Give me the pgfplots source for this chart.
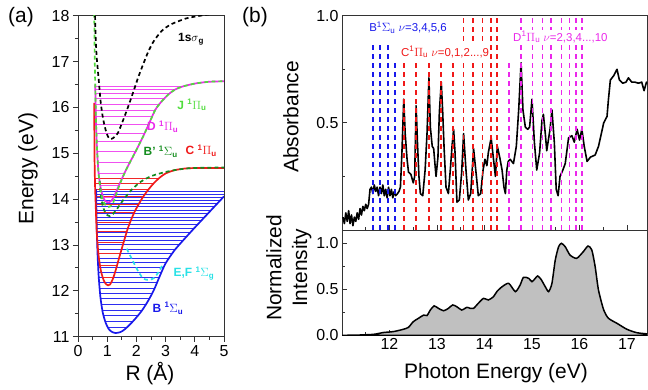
\documentclass[border=0pt]{standalone}
\usepackage{pgfplots}
\pgfplotsset{compat=1.18}
\usepackage{fontspec}
\setmainfont{Liberation Sans}
\definecolor{cB}{RGB}{25,25,235}
\definecolor{cBl}{RGB}{45,45,240}
\definecolor{cC}{RGB}{240,25,25}
\definecolor{cCl}{RGB}{240,40,40}
\definecolor{cD}{RGB}{235,40,235}
\definecolor{cDl}{RGB}{240,80,240}
\definecolor{cJ}{RGB}{80,220,60}
\definecolor{cBp}{RGB}{20,140,30}
\definecolor{cEF}{RGB}{40,225,230}
\definecolor{cfill}{RGB}{192,192,192}
\newcommand{\tfont}{\fontsize{16}{18}\selectfont}
\newcommand{\lfont}{\fontsize{21}{26}\selectfont}
\newcommand{\sfont}{\fontsize{12}{14}\selectfont\bfseries}
\newcommand{\bfont}{\fontsize{11.5}{13}\selectfont}
\pgfplotsset{
  myax/.style={scale only axis, anchor=south west,
    axis line style={black!80, line width=0.9bp},
    every tick/.style={black!80, line width=0.9bp},
    major tick length=5bp, minor tick length=3bp,
    tick label style={font=\tfont},
    label style={font=\lfont},
    tick pos=left,
    /pgf/number format/assume math mode=true,
  },
  vdash/.style={line width=1.8bp, dash pattern=on 5bp off 4bp},
}
\begin{document}
\begin{tikzpicture}
\useasboundingbox (0,0) rectangle (648bp,390bp);
% ---------------- panel (a)
\begin{axis}[myax, at={(78bp,53.3bp)}, width=146bp, height=321bp,
  xmin=0, xmax=5, ymin=11, ymax=18,
  xtick={0,1,2,3,4,5}, xticklabels={0,1,2,3,4,5},
  ytick={11,12,13,14,15,16,17,18}, yticklabels={11,12,13,14,15,16,17,18},
  minor x tick num=1, minor y tick num=1, tick align=outside,
  xlabel={R (Å)}, ylabel={Energy (eV)},
  xlabel style={at={(axis description cs:0.493,-0.116)}, anchor=center},
  ylabel style={at={(axis description cs:-0.342,0.524)}, anchor=center},
  unbounded coords=jump]
% B levels
\addplot[cBl, line width=1bp] coordinates {
(1.03,11.20)(1.67,11.20)(nan,nan)(0.94,11.33)(1.87,11.33)(nan,nan)
(0.88,11.46)(2.05,11.46)(nan,nan)(0.84,11.58)(2.20,11.58)(nan,nan)
(0.80,11.71)(2.33,11.71)(nan,nan)(0.78,11.83)(2.44,11.83)(nan,nan)
(0.76,11.95)(2.54,11.95)(nan,nan)(0.74,12.06)(2.63,12.06)(nan,nan)
(0.73,12.18)(2.70,12.18)(nan,nan)(0.71,12.29)(2.78,12.29)(nan,nan)
(0.70,12.40)(2.86,12.40)(nan,nan)(0.69,12.50)(2.93,12.50)(nan,nan)
(0.69,12.61)(3.01,12.61)(nan,nan)(0.68,12.71)(3.12,12.71)(nan,nan)
(0.67,12.81)(3.23,12.81)(nan,nan)(0.66,12.91)(3.34,12.91)(nan,nan)
(0.66,13.00)(3.47,13.00)(nan,nan)(0.65,13.10)(3.60,13.10)(nan,nan)
(0.65,13.19)(3.73,13.19)(nan,nan)(0.65,13.28)(3.85,13.28)(nan,nan)
(0.64,13.36)(3.98,13.36)(nan,nan)(0.64,13.45)(4.10,13.45)(nan,nan)
(0.64,13.53)(4.22,13.53)(nan,nan)(0.64,13.61)(4.34,13.61)(nan,nan)
(0.63,13.69)(4.45,13.69)(nan,nan)(0.63,13.76)(4.56,13.76)(nan,nan)
(0.63,13.83)(4.67,13.83)(nan,nan)(0.63,13.90)(4.77,13.90)(nan,nan)
(0.63,13.97)(4.87,13.97)(nan,nan)(0.62,14.04)(4.97,14.04)(nan,nan)
(0.62,14.10)(5.00,14.10)(nan,nan)(0.62,14.16)(5.00,14.16)};
% C levels
\addplot[cCl, line width=1bp] coordinates {
(0.85,12.29)(1.21,12.29)(nan,nan)(0.76,12.56)(1.34,12.56)(nan,nan)
(0.70,12.82)(1.46,12.82)(nan,nan)(0.67,13.06)(1.56,13.06)(nan,nan)
(0.64,13.29)(1.67,13.29)(nan,nan)(0.63,13.50)(1.79,13.50)(nan,nan)
(0.62,13.70)(1.93,13.70)(nan,nan)(0.61,13.89)(2.08,13.89)(nan,nan)
(0.60,14.06)(2.24,14.06)(nan,nan)(0.59,14.21)(2.41,14.21)(nan,nan)
(0.59,14.34)(2.59,14.34)(nan,nan)(0.59,14.45)(2.77,14.45)};
% D levels
\addplot[cDl, line width=1bp] coordinates {
(0.88,14.03)(1.21,14.03)(nan,nan)(0.76,14.30)(1.40,14.30)(nan,nan)
(0.70,14.56)(1.59,14.56)(nan,nan)(0.68,14.80)(1.78,14.80)(nan,nan)
(0.66,15.03)(1.96,15.03)(nan,nan)(0.64,15.25)(2.14,15.25)(nan,nan)
(0.63,15.44)(2.27,15.44)(nan,nan)(0.62,15.62)(2.40,15.62)(nan,nan)
(0.61,15.80)(2.53,15.80)(nan,nan)(0.61,15.94)(2.64,15.94)(nan,nan)
(0.60,16.07)(2.79,16.07)(nan,nan)(0.60,16.20)(2.97,16.20)(nan,nan)
(0.60,16.31)(3.15,16.31)(nan,nan)(0.59,16.40)(3.37,16.40)(nan,nan)
(0.59,16.45)(3.55,16.45)};
% B curve
\addplot[cB, line width=1.7bp, smooth, tension=0.45] coordinates {
(0.62,14.22)(0.63,13.8)(0.645,13.3)(0.67,12.8)(0.71,12.3)(0.77,11.85)(0.85,11.52)(0.95,11.3)(1.05,11.17)(1.15,11.11)(1.28,11.08)(1.45,11.1)(1.6,11.16)(1.8,11.28)(2.0,11.42)(2.2,11.58)(2.4,11.78)(2.6,12.02)(2.8,12.32)(3.0,12.6)(3.3,12.88)(3.6,13.1)(4.0,13.38)(4.5,13.72)(5.0,14.06)};
% C curve
\addplot[cC, line width=1.7bp, smooth, tension=0.45] coordinates {
(0.555,16.1)(0.565,15.0)(0.58,14.4)(0.6,14.0)(0.64,13.3)(0.7,12.8)(0.78,12.45)(0.88,12.23)(0.97,12.14)(1.03,12.12)(1.1,12.14)(1.2,12.27)(1.3,12.47)(1.4,12.7)(1.55,13.03)(1.7,13.35)(1.85,13.6)(2.0,13.8)(2.2,14.02)(2.4,14.2)(2.6,14.35)(2.8,14.47)(3.0,14.56)(3.3,14.63)(3.7,14.67)(4.2,14.68)(5.0,14.68)};
% D curve
\addplot[cD, line width=1.7bp, smooth, tension=0.45] coordinates {
(0.59,16.5)(0.62,15.6)(0.66,15.0)(0.7,14.6)(0.76,14.3)(0.84,14.08)(0.93,13.96)(1.05,13.93)(1.15,13.97)(1.25,14.08)(1.38,14.27)(1.5,14.44)(1.67,14.67)(1.9,14.95)(2.18,15.3)(2.4,15.6)(2.64,15.94)(2.85,16.12)(3.09,16.28)(3.3,16.38)(3.55,16.45)(4.0,16.52)(4.5,16.56)(5.0,16.57)};
% E,F curve
\addplot[cEF, line width=1.7bp, dash pattern=on 4bp off 3bp, smooth] coordinates {
(1.67,12.92)(1.8,12.75)(1.92,12.6)(2.05,12.44)(2.18,12.31)(2.3,12.25)(2.45,12.24)(2.6,12.28)(2.75,12.4)(2.92,12.6)};
% B' curve
\addplot[cBp, line width=1.7bp, dash pattern=on 4bp off 3bp, smooth, tension=0.45] coordinates {
(0.74,14.4)(0.78,14.1)(0.86,13.82)(0.97,13.67)(1.09,13.63)(1.2,13.68)(1.35,13.8)(1.55,13.98)(1.8,14.18)(2.05,14.33)(2.25,14.42)(2.5,14.5)(2.8,14.56)(3.2,14.62)(3.6,14.66)(4.0,14.68)(5.0,14.69)};
% J curve
\addplot[cJ, line width=1.7bp, dash pattern=on 4bp off 3bp, smooth, tension=0.45] coordinates {
(0.555,18.2)(0.57,17.2)(0.59,16.5)(0.62,15.6)(0.66,15.0)(0.7,14.6)(0.76,14.25)(0.84,14.0)(0.95,13.86)(1.06,13.83)(1.17,13.88)(1.27,14.03)(1.4,14.27)(1.52,14.46)(1.67,14.67)(1.9,14.95)(2.18,15.3)(2.4,15.6)(2.64,15.94)(2.85,16.12)(3.09,16.28)(3.3,16.38)(3.55,16.45)(4.0,16.52)(4.5,16.56)(5.0,16.57)};
% 1s sigma_g
\addplot[black, line width=1.7bp, dash pattern=on 4bp off 3bp, smooth, tension=0.45] coordinates {
(0.575,18.3)(0.6,17.6)(0.64,17.1)(0.7,16.67)(0.78,16.1)(0.86,15.75)(0.95,15.5)(1.03,15.36)(1.1,15.31)(1.2,15.33)(1.3,15.39)(1.38,15.46)(1.55,15.73)(1.72,16.02)(1.9,16.35)(2.07,16.67)(2.25,16.97)(2.41,17.22)(2.6,17.45)(2.87,17.67)(3.15,17.8)(3.44,17.88)(3.7,17.94)(4.0,17.98)(4.5,18.03)(5.0,18.06)};
\node[font=\sfont] at (axis cs:3.87,17.48) {1s$\sigma$\textsubscript{g}};
\node[font=\sfont, text=cJ] at (axis cs:3.9,16.05) {J \textsuperscript{1}$\Pi$\textsubscript{u}};
\node[font=\sfont, text=cD] at (axis cs:2.9,15.58) {D \textsuperscript{1}$\Pi$\textsubscript{u}};
\node[font=\sfont, text=cBp] at (axis cs:2.83,15.03) {B' \textsuperscript{1}$\Sigma$\textsubscript{u}};
\node[font=\sfont, text=cC] at (axis cs:4.22,15.05) {C \textsuperscript{1}$\Pi$\textsubscript{u}};
\node[font=\sfont, text=cEF] at (axis cs:3.97,12.38) {E,F \textsuperscript{1}$\Sigma$\textsubscript{g}};
\node[font=\sfont, text=cB] at (axis cs:3.08,11.62) {B \textsuperscript{1}$\Sigma$\textsubscript{u}};
\end{axis}
% ---------------- panel (b) top
\begin{axis}[myax, at={(342bp,160bp)}, width=305.4bp, height=214.3bp,
  xmin=11, xmax=17.43, ymin=0, ymax=1.0,
  xtick={12,13,14,15,16,17}, xticklabels={},
  minor xtick={11.5,12.5,13.5,14.5,15.5,16.5},
  ytick={0.5,1.0}, yticklabels={0.5,1.0}, minor ytick={0.25,0.75},
  tick align=inside,
  ylabel={Absorbance},
  ylabel style={at={(axis description cs:-0.167,0.527)}, anchor=center}]
\addplot[black, line width=1.6bp, line join=round] coordinates {
(11.02,0.06)(11.05,0.03)(11.08,0.08)(11.11,0.04)(11.14,0.09)(11.17,0.03)(11.2,0.07)(11.23,0.02)(11.26,0.06)(11.29,0.04)(11.32,0.08)(11.35,0.05)(11.38,0.1)(11.41,0.07)(11.44,0.11)(11.47,0.09)(11.5,0.12)(11.53,0.1)(11.56,0.12)(11.59,0.19)(11.62,0.2)(11.65,0.17)(11.68,0.21)(11.71,0.18)(11.74,0.2)(11.77,0.16)(11.8,0.2)(11.83,0.17)(11.86,0.21)(11.89,0.16)(11.92,0.19)(11.95,0.15)(11.98,0.2)(12.01,0.16)(12.04,0.19)(12.07,0.15)(12.1,0.18)(12.13,0.16)(12.17,0.17)(12.2,0.18)(12.23,0.2)(12.26,0.35)(12.3,0.61)(12.33,0.45)(12.37,0.33)(12.4,0.27)(12.45,0.26)(12.5,0.22)(12.53,0.25)(12.56,0.58)(12.59,0.4)(12.62,0.25)(12.65,0.17)(12.7,0.16)(12.75,0.28)(12.79,0.45)(12.83,0.71)(12.86,0.48)(12.9,0.39)(12.93,0.38)(12.96,0.3)(12.98,0.25)(13.02,0.34)(13.05,0.55)(13.09,0.69)(13.12,0.55)(13.15,0.38)(13.19,0.2)(13.24,0.17)(13.28,0.28)(13.32,0.4)(13.35,0.47)(13.38,0.36)(13.42,0.13)(13.47,0.14)(13.52,0.27)(13.56,0.45)(13.61,0.28)(13.66,0.14)(13.71,0.17)(13.77,0.38)(13.83,0.25)(13.87,0.16)(13.92,0.17)(13.97,0.28)(14.01,0.33)(14.05,0.3)(14.08,0.36)(14.14,0.43)(14.19,0.33)(14.23,0.25)(14.27,0.39)(14.32,0.34)(14.37,0.28)(14.41,0.2)(14.44,0.17)(14.47,0.28)(14.5,0.32)(14.54,0.33)(14.61,0.31)(14.67,0.39)(14.72,0.56)(14.77,0.78)(14.81,0.56)(14.86,0.48)(14.91,0.47)(14.95,0.48)(15.0,0.61)(15.05,0.41)(15.1,0.28)(15.16,0.36)(15.21,0.51)(15.24,0.54)(15.28,0.45)(15.31,0.37)(15.38,0.47)(15.42,0.56)(15.47,0.41)(15.51,0.19)(15.55,0.16)(15.59,0.25)(15.65,0.28)(15.7,0.31)(15.77,0.43)(15.84,0.44)(15.89,0.41)(15.95,0.47)(16.0,0.42)(16.05,0.47)(16.1,0.39)(16.16,0.32)(16.23,0.34)(16.33,0.35)(16.4,0.39)(16.51,0.5)(16.58,0.53)(16.61,0.61)(16.65,0.7)(16.72,0.72)(16.79,0.75)(16.84,0.7)(16.91,0.685)(16.98,0.69)(17.03,0.71)(17.1,0.69)(17.17,0.69)(17.24,0.685)(17.31,0.69)(17.36,0.65)(17.41,0.69)(17.45,0.68)};
\addplot[cB, ycomb, vdash] coordinates {
(11.65,0.87)(11.80,0.87)(11.96,0.87)(12.11,0.79)};
\addplot[cC, ycomb, vdash] coordinates {
(12.30,0.79)(12.56,0.79)(12.84,0.79)(13.09,0.79)(13.33,0.79)(13.56,1.0)(13.76,1.0)(13.96,1.0)(14.14,1.0)(14.27,1.0)};
\addplot[cD, ycomb, vdash] coordinates {
(14.51,0.79)(14.77,1.0)(15.01,1.0)(15.22,1.0)(15.40,1.0)(15.62,1.0)(15.79,1.0)(15.92,1.0)(16.05,1.0)};
\node[font=\bfont, text=cB, anchor=west, inner sep=1bp] at (axis cs:11.55,0.945) {B\textsuperscript{1}$\Sigma$\textsubscript{u} $\nu$=3,4,5,6};
\node[font=\bfont, text=cC, anchor=west, fill=white, inner sep=1bp] at (axis cs:12.22,0.83) {C\textsuperscript{1}$\Pi$\textsubscript{u} $\nu$=0,1,2...,9};
\node[font=\bfont, text=cD, anchor=west, fill=white, inner sep=1bp] at (axis cs:14.58,0.90) {D\textsuperscript{1}$\Pi$\textsubscript{u} $\nu$=2,3,4...,10};
\end{axis}
% ---------------- panel (b) bottom
\begin{axis}[myax, at={(342bp,54.7bp)}, width=305.4bp, height=105.3bp,
  xmin=11, xmax=17.43, ymin=0, ymax=1.145,
  xtick={12,13,14,15,16,17}, xticklabels={12,13,14,15,16,17},
  minor xtick={11.5,12.5,13.5,14.5,15.5,16.5},
  ytick={0,0.5,1.0}, yticklabels={0.0,0.5,1.0}, minor ytick={0.25,0.75},
  tick align=inside,
  xlabel={Photon Energy (eV)}, ylabel={Normalized\\Intensity},
  xlabel style={at={(axis description cs:0.504,-0.358)}, anchor=center},
  ylabel style={at={(axis description cs:-0.174,0.64)}, anchor=center, align=center}]
\addplot[draw=black, line width=1.5bp, fill=cfill, smooth, tension=0.4] coordinates {
(11.0,0.0)(11.3,0.002)(11.66,0.01)(11.87,0.03)(12.08,0.04)(12.29,0.065)(12.4,0.087)(12.5,0.148)(12.61,0.185)(12.72,0.22)(12.79,0.215)(12.86,0.275)(12.94,0.32)(13.03,0.293)(13.14,0.267)(13.24,0.293)(13.33,0.33)(13.42,0.31)(13.52,0.275)(13.63,0.304)(13.7,0.293)(13.77,0.293)(13.87,0.348)(13.98,0.402)(14.08,0.384)(14.19,0.42)(14.26,0.475)(14.37,0.528)(14.51,0.565)(14.65,0.475)(14.75,0.547)(14.82,0.63)(14.93,0.62)(15.0,0.583)(15.07,0.62)(15.12,0.645)(15.19,0.609)(15.28,0.528)(15.35,0.475)(15.42,0.565)(15.49,0.818)(15.56,0.963)(15.62,1.0)(15.7,0.963)(15.8,0.873)(15.94,0.837)(16.08,0.909)(16.18,0.971)(16.26,0.927)(16.33,0.746)(16.4,0.492)(16.51,0.275)(16.61,0.185)(16.79,0.13)(17.0,0.065)(17.21,0.028)(17.45,0.014)} \closedcycle;
\end{axis}
\node[font=\lfont] at (21bp,373bp) {(a)};
\node[font=\lfont] at (255bp,373bp) {(b)};
\end{tikzpicture}
\end{document}
